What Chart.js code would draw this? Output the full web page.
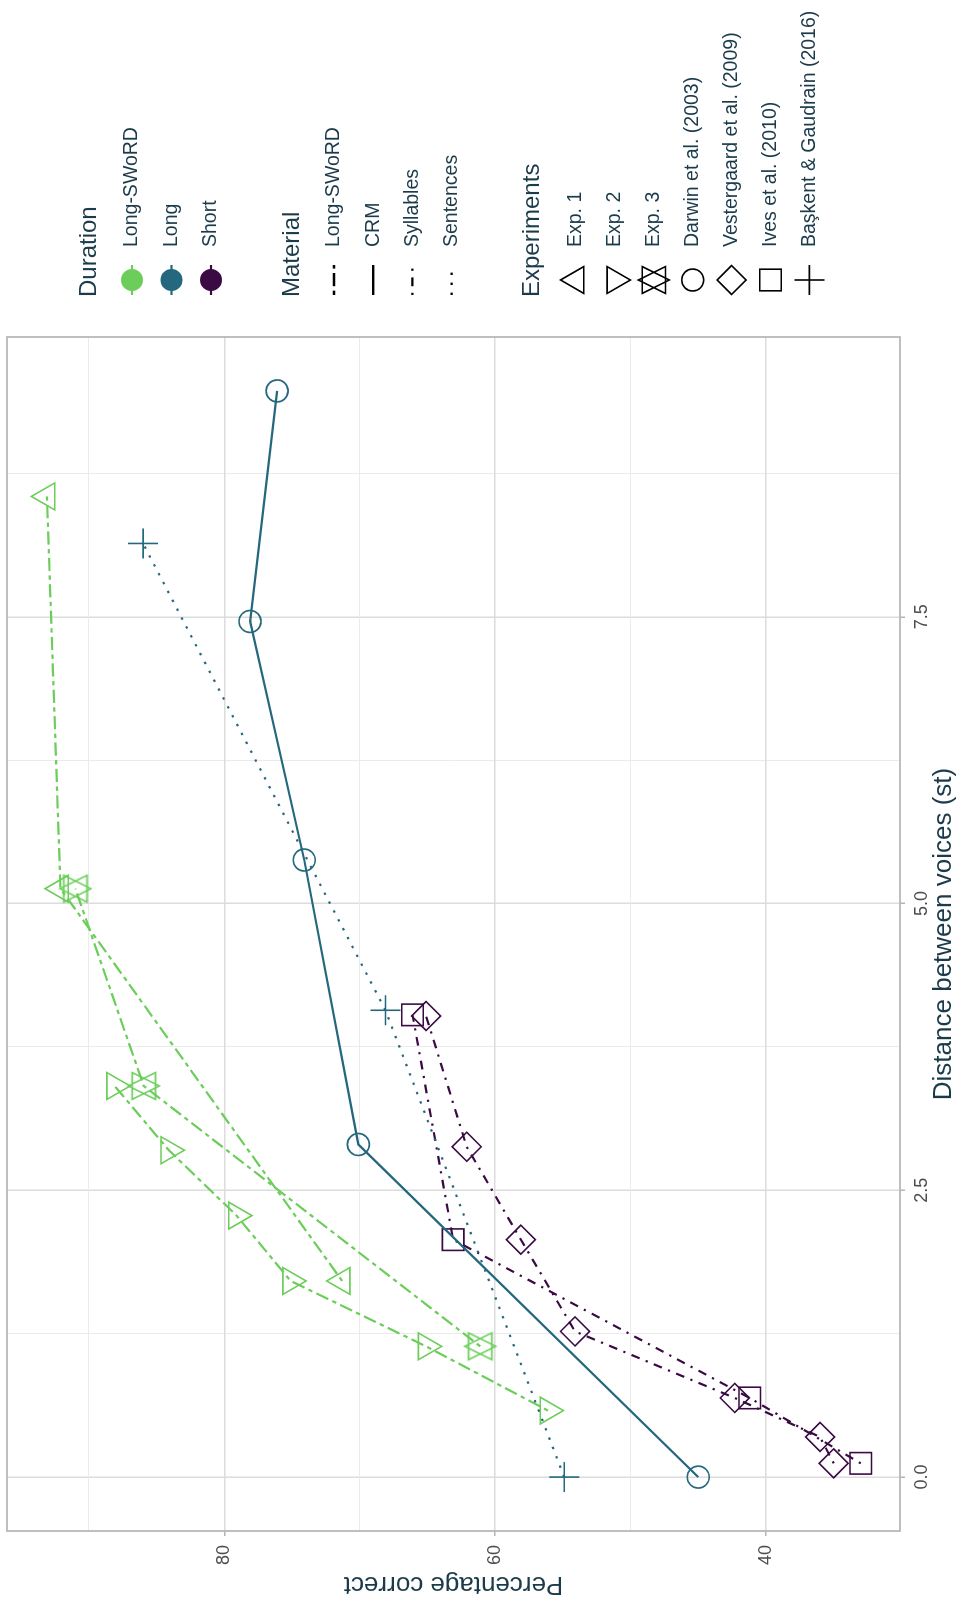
<!DOCTYPE html>
<html>
<head>
<meta charset="utf-8">
<title>Percentage correct by distance between voices</title>
<script src="https://cdn.jsdelivr.net/npm/chart.js@4.4.1/dist/chart.umd.min.js"></script>
<style>
  html, body { margin: 0; padding: 0; background: #ffffff; }
  body { width: 959px; height: 1603px; overflow: hidden; position: relative; }
  /* the figure is laid out landscape and turned a quarter turn to the left */
  #turn {
    position: absolute; left: 0; top: 0;
    width: 1603px; height: 959px;
    transform-origin: 0 0;
    transform: translateY(1603px) rotate(-90deg);
  }
</style>
</head>
<body>
<div id="turn"><canvas id="chart" width="1603" height="959"></canvas></div>
<script>
// distance between voices (st) and percentage correct
const darwinX = [0, 2.9, 5.38, 7.46, 9.47];
const darwinY = [45.0, 70.1, 74.1, 78.1, 76.1];
const baskentX = [0, 4.07, 8.14];
const baskentY = [54.9, 68.1, 86.0];
const ivesX = [0.12, 0.69, 2.07, 4.03];
const ivesY = [33.0, 41.2, 63.1, 66.1];
const vestX = [0.12, 0.35, 0.69, 1.27, 2.07, 2.88, 4.02];
const vestY = [35.0, 36.0, 42.3, 54.1, 58.1, 62.1, 65.1];
const exp1X = [1.71, 5.13, 8.55];
const exp1Y = [71.3, 92.1, 93.1];
const exp2X = [0.58, 1.14, 1.71, 2.28, 2.85, 3.41];
const exp2Y = [56.1, 65.1, 75.1, 79.1, 84.1, 88.1];
const exp3X = [1.14, 3.41, 5.13];
const exp3Y = [61.1, 85.95, 91.0];

const xTicks = [0, 1.25, 2.5, 3.75, 5, 6.25, 7.5, 8.75];
const yTicks = [40, 50, 60, 70, 80, 90];

const durations = ['Long-SWoRD', 'Long', 'Short'];
const materials = ['Long-SWoRD', 'CRM', 'Syllables', 'Sentences'];
const experiments = ['Exp. 1', 'Exp. 2', 'Exp. 3', 'Darwin et al. (2003)',
  'Vestergaard et al. (2009)', 'Ives et al. (2010)', 'Başkent & Gaudrain (2016)'];

const GREEN = '#6CCD5A', TEAL = '#25687E', PURPLE = '#3B0A45';
const INK = '#1B3B4B';
const FONT = '"Liberation Sans", Arial, sans-serif';
const durationColors = [GREEN, TEAL, PURPLE];
const dashes = {
  'Long-SWoRD': [4.4, 4.4, 13.2, 4.4],
  'CRM': [],
  'Syllables': [2.2, 6.6, 8.8, 6.6],
  'Sentences': [2.4, 7.6]
};
const expShapes = ['up', 'down', 'star', 'circle', 'diamond', 'square', 'plus'];

function trianglePath(ctx, x, y, r, dir, base) {
  const hw = r * Math.sqrt(3) / 2;
  ctx.moveTo(x, y - dir * r);
  ctx.lineTo(x + hw, y + dir * r * base);
  ctx.lineTo(x - hw, y + dir * r * base);
  ctx.closePath();
}

function shapePath(ctx, shape, x, y) {
  ctx.beginPath();
  if (shape === 'up') trianglePath(ctx, x, y, 15.5, 1, 0.5);
  else if (shape === 'down') trianglePath(ctx, x, y, 15.5, -1, 0.5);
  else if (shape === 'star') {
    trianglePath(ctx, x, y, 15.5, 1, 0.75);
    trianglePath(ctx, x, y, 15.5, -1, 0.75);
  } else if (shape === 'circle') ctx.arc(x, y, 11, 0, Math.PI * 2);
  else if (shape === 'diamond') {
    ctx.moveTo(x - 14.5, y); ctx.lineTo(x, y - 14.5);
    ctx.lineTo(x + 14.5, y); ctx.lineTo(x, y + 14.5);
    ctx.closePath();
  } else if (shape === 'square') ctx.rect(x - 10.8, y - 10.8, 21.6, 21.6);
  else if (shape === 'plus') {
    ctx.moveTo(x - 15, y); ctx.lineTo(x + 15, y);
    ctx.moveTo(x, y - 15); ctx.lineTo(x, y + 15);
  }
}

// Chart.js has no "triangles up and down" marker, so give it a small canvas
function starMarker(color) {
  const c = document.createElement('canvas');
  c.width = 40; c.height = 40;
  const g = c.getContext('2d');
  g.strokeStyle = color;
  g.lineWidth = 1.6;
  shapePath(g, 'star', 20, 20);
  g.stroke();
  return c;
}

function pts(xs, ys) {
  return xs.map((x, i) => ({ x: x, y: ys[i] }));
}

function series(label, xs, ys, color, material, style, radius, rotation) {
  return {
    label: label,
    data: pts(xs, ys),
    showLine: true,
    borderColor: color,
    borderWidth: 2.2,
    borderDash: dashes[material],
    tension: 0,
    fill: false,
    pointStyle: style,
    pointRadius: radius,
    pointRotation: rotation || 0,
    pointBorderColor: color,
    pointBackgroundColor: 'rgba(0,0,0,0)',
    pointBorderWidth: 1.6
  };
}

const panelBorder = {
  id: 'panelBorder',
  afterDatasetsDraw(chart) {
    const a = chart.chartArea, ctx = chart.ctx;
    ctx.save();
    ctx.strokeStyle = '#B8B8B8';
    ctx.lineWidth = 1.8;
    ctx.strokeRect(a.left, a.top, a.right - a.left, a.bottom - a.top);
    ctx.restore();
  }
};

const sideLegend = {
  id: 'sideLegend',
  afterDraw(chart) {
    const ctx = chart.ctx;
    const titleX = 1306, keyX = 1323, textX = 1356;
    ctx.save();
    ctx.textBaseline = 'middle';
    ctx.textAlign = 'left';

    function title(text, y) {
      ctx.fillStyle = INK;
      ctx.font = '24px ' + FONT;
      ctx.fillText(text, titleX, y);
    }
    function label(text, y) {
      ctx.fillStyle = INK;
      ctx.font = '19.5px ' + FONT;
      ctx.fillText(text, textX, y);
    }

    title('Duration', 89);
    durations.forEach((d, i) => {
      const y = 132 + i * 39.5;
      ctx.strokeStyle = durationColors[i];
      ctx.lineWidth = 2.2;
      ctx.setLineDash([]);
      ctx.beginPath(); ctx.moveTo(keyX - 15, y); ctx.lineTo(keyX + 15, y); ctx.stroke();
      ctx.fillStyle = durationColors[i];
      ctx.beginPath(); ctx.arc(keyX, y, 11, 0, Math.PI * 2); ctx.fill();
      label(d, y);
    });

    title('Material', 292);
    materials.forEach((m, i) => {
      const y = 334 + i * 39.2;
      ctx.strokeStyle = '#000000';
      ctx.lineWidth = 2.4;
      ctx.setLineDash(dashes[m]);
      ctx.beginPath(); ctx.moveTo(keyX - 15, y); ctx.lineTo(keyX + 15, y); ctx.stroke();
      ctx.setLineDash([]);
      label(m, y);
    });

    title('Experiments', 532);
    experiments.forEach((e, i) => {
      const y = 576 + i * 38.9;
      ctx.strokeStyle = '#000000';
      ctx.lineWidth = 1.6;
      shapePath(ctx, expShapes[i], keyX, y);
      ctx.stroke();
      label(e, y);
    });
    ctx.restore();
  }
};

const majorX = v => Math.abs(v / 2.5 - Math.round(v / 2.5)) < 1e-6;
const majorY = v => v % 20 === 0;

new Chart(document.getElementById('chart'), {
  type: 'scatter',
  data: {
    datasets: [
      series('Darwin et al. (2003)', darwinX, darwinY, TEAL, 'CRM', 'circle', 11),
      series('Başkent & Gaudrain (2016)', baskentX, baskentY, TEAL, 'Sentences', 'cross', 15),
      series('Ives et al. (2010)', ivesX, ivesY, PURPLE, 'Syllables', 'rect', 15.2),
      series('Vestergaard et al. (2009)', vestX, vestY, PURPLE, 'Syllables', 'rectRot', 14.5),
      series('Exp. 1', exp1X, exp1Y, GREEN, 'Long-SWoRD', 'triangle', 15.5),
      series('Exp. 2', exp2X, exp2Y, GREEN, 'Long-SWoRD', 'triangle', 15.5, 180),
      series('Exp. 3', exp3X, exp3Y, GREEN, 'Long-SWoRD', starMarker(GREEN), 15.5)
    ]
  },
  options: {
    responsive: false,
    devicePixelRatio: 1,
    animation: false,
    events: [],
    layout: { autoPadding: false, padding: { left: 0, right: 337, top: 7, bottom: 0 } },
    plugins: {
      legend: { display: false },
      tooltip: { enabled: false }
    },
    scales: {
      x: {
        type: 'linear',
        min: -0.47,
        max: 9.94,
        afterBuildTicks: scale => { scale.ticks = xTicks.map(v => ({ value: v })); },
        afterFit: scale => {
          scale.height = 59;
          scale.paddingLeft = 0;
          scale.paddingRight = 0;
        },
        border: { display: false },
        grid: {
          color: c => majorX(c.tick.value) ? '#DCDCDC' : '#E9E9E9',
          lineWidth: c => majorX(c.tick.value) ? 1.5 : 0.9,
          tickColor: c => majorX(c.tick.value) ? '#B3B3B3' : 'rgba(0,0,0,0)',
          tickLength: 5,
          tickWidth: 1.5
        },
        ticks: {
          autoSkip: false,
          maxRotation: 0,
          padding: 6,
          color: '#4D4D4D',
          font: { family: FONT, size: 18 },
          callback: v => majorX(v) ? v.toFixed(1) : ''
        },
        title: {
          display: true,
          text: 'Distance between voices (st)',
          color: INK,
          font: { family: FONT, size: 26 },
          padding: 0
        }
      },
      y: {
        type: 'linear',
        min: 30.1,
        max: 96.05,
        afterBuildTicks: scale => { scale.ticks = yTicks.map(v => ({ value: v })); },
        afterFit: scale => {
          scale.width = 72;
          scale.paddingTop = 0;
          scale.paddingBottom = 0;
        },
        border: { display: false },
        grid: {
          color: c => majorY(c.tick.value) ? '#DCDCDC' : '#E9E9E9',
          lineWidth: c => majorY(c.tick.value) ? 1.5 : 0.9,
          tickColor: c => majorY(c.tick.value) ? '#B3B3B3' : 'rgba(0,0,0,0)',
          tickLength: 5,
          tickWidth: 1.5
        },
        ticks: {
          autoSkip: false,
          padding: 9,
          color: '#4D4D4D',
          font: { family: FONT, size: 18 },
          callback: v => majorY(v) ? String(v) : ''
        },
        title: {
          display: true,
          text: 'Percentage correct',
          color: INK,
          font: { family: FONT, size: 26 },
          padding: { top: 3, bottom: 0 }
        }
      }
    }
  },
  plugins: [panelBorder, sideLegend]
});
</script>
</body>
</html>
